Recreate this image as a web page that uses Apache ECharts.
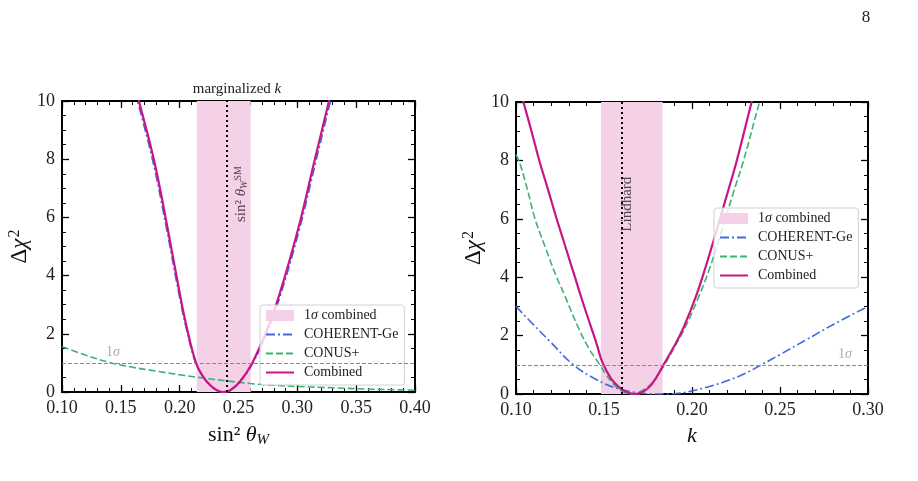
<!DOCTYPE html>
<html><head><meta charset="utf-8">
<script src="https://cdn.jsdelivr.net/npm/echarts@6/dist/echarts.min.js"></script>
<style>html,body{margin:0;padding:0;background:#fff}#c{width:918px;height:481px}</style>
</head><body><div id="c"></div>
<script>
const FONT = 'Liberation Serif';
const PINK = '#f4d1e7', BLUE = '#4169e1', GREEN = '#3cb371', MAGENTA = '#c71585';

const seriesNames = ['1σ combined', 'COHERENT-Ge', 'CONUS+', 'Combined'];

// ---- left panel: sin^2 theta_W (marginalized k)
const leftXRange = [0.10, 0.40];
const yRange = [0, 10];
const leftCoherent = [[0.1548,11.5],[0.1642,10],[0.1773,7.91],[0.1888,5.62],[0.1995,3.34],[0.2056,2.19],[0.2135,1.0],[0.2198,0.53],[0.226,0.23],[0.232,0.05],[0.237,0],[0.243,0.06],[0.2517,0.37],[0.2623,1.0],[0.2757,2.19],[0.2858,3.34],[0.3020,5.62],[0.3157,7.91],[0.3282,10],[0.3372,11.5]];
const leftConus = [[0.10,1.56],[0.12,1.27],[0.14,1.02],[0.16,0.85],[0.18,0.72],[0.20,0.59],[0.22,0.48],[0.24,0.38],[0.26,0.29],[0.28,0.23],[0.30,0.19],[0.32,0.16],[0.34,0.13],[0.36,0.10],[0.38,0.08],[0.40,0.06]];
const leftCombined = [[0.156,11.5],[0.1654,10],[0.1785,7.91],[0.1898,5.62],[0.2003,3.34],[0.2062,2.19],[0.2139,1.0],[0.220,0.52],[0.226,0.23],[0.232,0.05],[0.237,0],[0.243,0.06],[0.2513,0.36],[0.2617,1.0],[0.2748,2.19],[0.2847,3.34],[0.3008,5.62],[0.3144,7.91],[0.3269,10],[0.3359,11.5]];
const leftBand = [0.2145, 0.2604];
const leftRefLine = 0.2387;
const leftRefLabelPos = [0.2521, 6.8];
const leftSigmaLabelPos = [0.1433, 1.38];

// ---- right panel: k
const rightXRange = [0.10, 0.30];
const rightCoherent = [[0.10,3.0],[0.1095,2.4],[0.1193,1.8],[0.1326,1.0],[0.1458,0.49],[0.157,0.2],[0.1686,0.05],[0.18,0.0],[0.19,0.01],[0.1989,0.09],[0.21,0.26],[0.22,0.45],[0.23,0.7],[0.2394,1.0],[0.25,1.35],[0.265,1.86],[0.28,2.37],[0.30,3.0]];
const rightConus = [[0.10,8.2],[0.1022,7.9],[0.1065,7.0],[0.1108,6.0],[0.1168,5.0],[0.1231,4.0],[0.1275,3.4],[0.1355,2.26],[0.1415,1.55],[0.1473,1.03],[0.151,0.68],[0.155,0.36],[0.160,0.1],[0.165,0.0],[0.170,0.07],[0.175,0.25],[0.178,0.43],[0.1847,1.03],[0.190,1.6],[0.196,2.26],[0.2036,3.3],[0.210,4.3],[0.2169,5.6],[0.223,6.8],[0.2292,7.98],[0.2383,10],[0.245,11.5]];
const rightCombined = [[0.10,10.9],[0.1042,10],[0.1088,9.0],[0.1133,7.98],[0.1182,7.0],[0.1231,6.0],[0.1283,5.0],[0.1335,4.0],[0.1382,3.1],[0.1426,2.3],[0.146,1.68],[0.149,1.1],[0.154,0.53],[0.159,0.21],[0.163,0.06],[0.1675,0],[0.172,0.07],[0.177,0.32],[0.1841,1.03],[0.190,1.65],[0.1951,2.26],[0.2023,3.35],[0.208,4.4],[0.2144,5.69],[0.220,6.85],[0.2254,7.98],[0.2339,10],[0.241,11.6]];
const rightBand = [0.1483, 0.1833];
const rightRefLine = 0.1572;
const rightRefLabelPos = [0.1633, 6.5];
const rightSigmaLabelPos = [0.2869, 1.35];

const sigmaLevel = 1;

const chart = echarts.init(document.getElementById('c'), null, {renderer: 'canvas'});

function xAxis(grid, range, pos, name) {
  return {
    type: 'value', gridIndex: grid, position: pos, min: range[0], max: range[1], interval: 0.05,
    axisLine: {show: true, onZero: false, lineStyle: {color: '#000', width: 2}},
    axisTick: {show: true, inside: true, length: 7, lineStyle: {color: '#000', width: 1.3}},
    minorTick: {show: true, splitNumber: 5, length: 4, lineStyle: {color: '#000', width: 1}},
    splitLine: {show: false},
    axisLabel: {show: pos === 'bottom', margin: 7, color: '#222', fontFamily: FONT, fontSize: 18,
      formatter: v => v.toFixed(2)},
    name: pos === 'bottom' ? name : '', nameLocation: 'middle', nameGap: 31,
    nameTextStyle: {fontFamily: FONT, fontSize: 22, color: '#111',
      rich: {
        n: {fontFamily: FONT, fontSize: 22, color: '#111'},
        i: {fontFamily: FONT, fontSize: 22, fontStyle: 'italic', color: '#111'},
        sub: {fontFamily: FONT, fontSize: 15, fontStyle: 'italic', color: '#111', verticalAlign: 'bottom', padding: [10, 0, 0, 0]}
      }}
  };
}
function yAxis(grid, pos) {
  return {
    type: 'value', gridIndex: grid, position: pos, min: yRange[0], max: yRange[1], interval: 2,
    axisLine: {show: true, onZero: false, lineStyle: {color: '#000', width: 2}},
    axisTick: {show: true, inside: true, length: 7, lineStyle: {color: '#000', width: 1.3}},
    minorTick: {show: true, splitNumber: 4, length: 4, lineStyle: {color: '#000', width: 1}},
    splitLine: {show: false},
    axisLabel: {show: pos === 'left', margin: 7, color: '#222', fontFamily: FONT, fontSize: 18},
    name: pos === 'left' ? 'Δ{i|χ}{sup|2}' : '', nameLocation: 'middle', nameGap: 29, nameRotate: 90,
    nameTextStyle: {fontFamily: FONT, fontSize: 23, color: '#111',
      rich: {
        i: {fontFamily: FONT, fontSize: 23, fontStyle: 'italic', color: '#111'},
        sup: {fontFamily: FONT, fontSize: 16, color: '#111', verticalAlign: 'top', padding: [0, 0, 10, 1]}
      }}
  };
}

function panelSeries(xi, yi, coh, con, comb, band, refX, refLabelPos, refLabel, sigmaPos) {
  return [
    {
      name: seriesNames[0], type: 'line', xAxisIndex: xi, yAxisIndex: yi, data: [],
      itemStyle: {color: PINK}, lineStyle: {color: PINK},
      markArea: {silent: true, itemStyle: {color: PINK, opacity: 1}, data: [[{xAxis: band[0]}, {xAxis: band[1]}]]},
      markLine: {silent: true, symbol: 'none', label: {show: false},
        data: [
          {yAxis: sigmaLevel, lineStyle: {color: '#8a8a8a', width: 1, type: [4, 2]}},
          {xAxis: refX, lineStyle: {color: '#000', width: 2, type: [2, 3]}}
        ]}
    },
    {
      name: seriesNames[2], type: 'line', xAxisIndex: xi, yAxisIndex: yi, data: con, smooth: 0.4,
      showSymbol: false, symbol: 'none', itemStyle: {color: GREEN},
      lineStyle: {color: GREEN, width: 1.6, type: [7, 3]}
    },
    {
      name: seriesNames[1], type: 'line', xAxisIndex: xi, yAxisIndex: yi, data: coh, smooth: 0.4,
      showSymbol: false, symbol: 'none', itemStyle: {color: BLUE},
      lineStyle: {color: BLUE, width: 1.6, type: [9, 3, 2, 3]}
    },
    {
      name: seriesNames[3], type: 'line', xAxisIndex: xi, yAxisIndex: yi, data: comb, smooth: 0.4,
      showSymbol: false, symbol: 'none', itemStyle: {color: MAGENTA},
      lineStyle: {color: MAGENTA, width: 2.2}
    },
    {
      name: 'labels' + xi, type: 'scatter', xAxisIndex: xi, yAxisIndex: yi, symbolSize: 0, silent: true,
      data: [
        {value: refLabelPos, label: {show: true, position: 'inside', rotate: 90, formatter: refLabel,
          fontFamily: FONT, fontSize: 15, color: '#222',
          rich: {
            n: {fontFamily: FONT, fontSize: 15, color: '#222'},
            i: {fontFamily: FONT, fontSize: 15, fontStyle: 'italic', color: '#222'},
            sub: {fontFamily: FONT, fontSize: 10, fontStyle: 'italic', color: '#222', verticalAlign: 'bottom', padding: [6, 0, 0, 0]},
            sup: {fontFamily: FONT, fontSize: 10, color: '#222', verticalAlign: 'top', padding: [0, 0, 6, 0]}
          }}},
        {value: sigmaPos, label: {show: true, position: 'inside', formatter: '1{i|σ}',
          fontFamily: FONT, fontSize: 14, color: '#999',
          rich: {i: {fontFamily: FONT, fontSize: 14, fontStyle: 'italic', color: '#999'}}}}
      ]
    }
  ];
}

function legend(left, top) {
  return {
    orient: 'vertical', left: left, top: top,
    data: [
      {name: seriesNames[0], icon: 'rect', itemStyle: {color: PINK, opacity: 1}},
      seriesNames[1], seriesNames[2], seriesNames[3]
    ],
    itemWidth: 28, itemHeight: 11, itemGap: 4,
    itemStyle: {opacity: 0},
    lineStyle: {width: 2},
    padding: [3, 6, 5, 5],
    backgroundColor: 'rgba(255,255,255,0.8)', borderColor: '#d0d0d0', borderWidth: 1, borderRadius: 3,
    textStyle: {fontFamily: FONT, fontSize: 14, color: '#222', lineHeight: 15, padding: [0, 0, 0, 5],
      rich: {i: {fontFamily: FONT, fontSize: 14, fontStyle: 'italic', color: '#222'}}},
    formatter: n => n === seriesNames[0] ? '1{i|σ} combined' : n,
    selectedMode: false
  };
}

const option = {
  animation: false,
  backgroundColor: '#fff',
  grid: [
    {left: 62, top: 101, width: 353, height: 291},
    {left: 516, top: 102, width: 352, height: 292}
  ],
  xAxis: [
    xAxis(0, leftXRange, 'bottom', '{n|sin² }{i|θ}{sub|W}'),
    xAxis(0, leftXRange, 'top', ''),
    xAxis(1, rightXRange, 'bottom', '{i|k}'),
    xAxis(1, rightXRange, 'top', '')
  ],
  yAxis: [yAxis(0, 'left'), yAxis(0, 'right'), yAxis(1, 'left'), yAxis(1, 'right')],
  legend: [legend(260, 305), legend(714, 208)],
  graphic: [
    {type: 'text', x: 237, y: 89, style: {text: 'marginalized {i|k}', fontFamily: FONT, fontSize: 15, fill: '#222',
      textAlign: 'center', textVerticalAlign: 'middle',
      rich: {i: {fontFamily: FONT, fontSize: 15, fontStyle: 'italic', fill: '#222'}}}},
    {type: 'text', x: 866, y: 18, style: {text: '8', fontFamily: FONT, fontSize: 17, fill: '#222',
      textAlign: 'center', textVerticalAlign: 'middle'}}
  ],
  series: [
    ...panelSeries(0, 0, leftCoherent, leftConus, leftCombined, leftBand, leftRefLine, leftRefLabelPos,
      '{n|sin² }{i|θ}{sub|W}{sup|SM}', leftSigmaLabelPos),
    ...panelSeries(2, 2, rightCoherent, rightConus, rightCombined, rightBand, rightRefLine, rightRefLabelPos,
      'Lindhard', rightSigmaLabelPos)
  ]
};
chart.setOption(option);
</script></body></html>
